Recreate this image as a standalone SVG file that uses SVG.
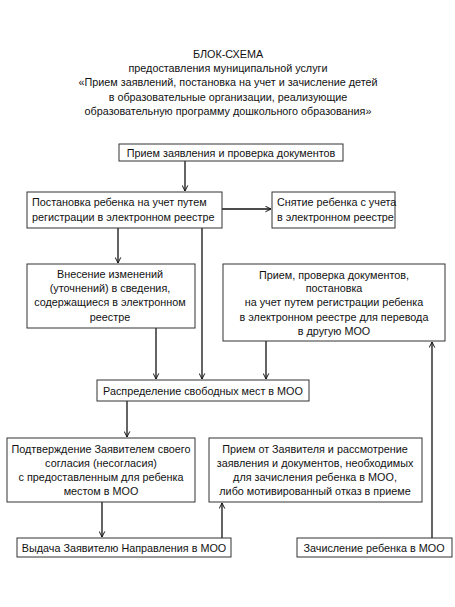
<svg xmlns="http://www.w3.org/2000/svg" width="455" height="607" viewBox="0 0 455 607">
<style>
text{font-family:"Liberation Sans",Arial,sans-serif;font-size:10.8px;fill:#111}
.c{text-anchor:middle}
.b{fill:#fff;stroke:#333;stroke-width:1}
.l{fill:none;stroke:#111;stroke-width:1.3}
</style>
<defs>
<marker id="a" viewBox="0 0 10 10" refX="9" refY="5" markerWidth="7" markerHeight="7" orient="auto" markerUnits="userSpaceOnUse">
<path d="M1,1 L9,5 L1,9" fill="none" stroke="#111" stroke-width="1.4"/>
</marker>
</defs>
<g id="title">
<text class="c" x="228" y="58">БЛОК-СХЕМА</text>
<text class="c" x="228" y="72">предоставления муниципальной услуги</text>
<text class="c" x="228" y="86">«Прием заявлений, постановка на учет и зачисление детей</text>
<text class="c" x="228" y="101">в образовательные организации, реализующие</text>
<text class="c" x="228" y="115">образовательную программу дошкольного образования»</text>
</g>
<g id="connectors">
<line class="l" x1="185" y1="161" x2="185" y2="191" marker-end="url(#a)"/>
<line class="l" x1="222" y1="209" x2="271" y2="209" marker-end="url(#a)"/>
<line class="l" x1="118" y1="228" x2="118" y2="263" marker-end="url(#a)"/>
<line class="l" x1="202" y1="228" x2="202" y2="379" marker-end="url(#a)"/>
<line class="l" x1="156" y1="328" x2="156" y2="379" marker-end="url(#a)"/>
<line class="l" x1="266" y1="341" x2="266" y2="379" marker-end="url(#a)"/>
<line class="l" x1="127" y1="401" x2="127" y2="437" marker-end="url(#a)"/>
<line class="l" x1="102" y1="502" x2="102" y2="537" marker-end="url(#a)"/>
<line class="l" x1="222" y1="538" x2="222" y2="503" marker-end="url(#a)"/>
<line class="l" x1="432" y1="538" x2="432" y2="342" marker-end="url(#a)"/>
</g>
<g id="n1">
<rect class="b" x="119" y="144" width="224" height="17"/>
<text class="c" x="231" y="157">Прием заявления и проверка документов</text>
</g>
<g id="n2">
<rect class="b" x="27" y="192" width="195" height="36"/>
<text x="32" y="206">Постановка ребенка на учет путем</text>
<text x="32" y="221">регистрации в электронном реестре</text>
</g>
<g id="n3">
<rect class="b" x="272" y="192" width="123" height="36"/>
<text x="277" y="206">Снятие ребенка с учета</text>
<text x="277" y="221">в электронном реестре</text>
</g>
<g id="n4">
<rect class="b" x="27" y="264" width="168" height="64"/>
<text class="c" x="110" y="278">Внесение изменений</text>
<text class="c" x="110" y="292">(уточнений) в сведения,</text>
<text class="c" x="110" y="306">содержащиеся в электронном</text>
<text class="c" x="110" y="321">реестре</text>
</g>
<g id="n5">
<rect class="b" x="223" y="264" width="222" height="77"/>
<text class="c" x="334" y="279">Прием, проверка документов,</text>
<text class="c" x="334" y="292">постановка</text>
<text class="c" x="334" y="306">на учет путем регистрации ребенка</text>
<text class="c" x="334" y="321">в электронном реестре для перевода</text>
<text class="c" x="334" y="335">в другую МОО</text>
</g>
<g id="n6">
<rect class="b" x="97" y="380" width="212" height="21"/>
<text class="c" x="203" y="394.5">Распределение свободных мест в МОО</text>
</g>
<g id="n7">
<rect class="b" x="7" y="438" width="188" height="64"/>
<text class="c" x="101" y="453">Подтверждение Заявителем своего</text>
<text class="c" x="101" y="467">согласия (несогласия)</text>
<text class="c" x="101" y="481">с предоставленным для ребенка</text>
<text class="c" x="101" y="495">местом в МОО</text>
</g>
<g id="n8">
<rect class="b" x="209" y="438" width="213" height="64"/>
<text class="c" x="315" y="453">Прием от Заявителя и рассмотрение</text>
<text class="c" x="315" y="467">заявления и документов, необходимых</text>
<text class="c" x="315" y="481">для зачисления ребенка в МОО,</text>
<text class="c" x="315" y="495">либо мотивированный отказ в приеме</text>
</g>
<g id="n9">
<rect class="b" x="17" y="538" width="214" height="19"/>
<text class="c" x="124" y="551.5">Выдача Заявителю Направления в МОО</text>
</g>
<g id="n10">
<rect class="b" x="297" y="538" width="155" height="19"/>
<text class="c" x="374" y="551.5">Зачисление ребенка в МОО</text>
</g>
</svg>
